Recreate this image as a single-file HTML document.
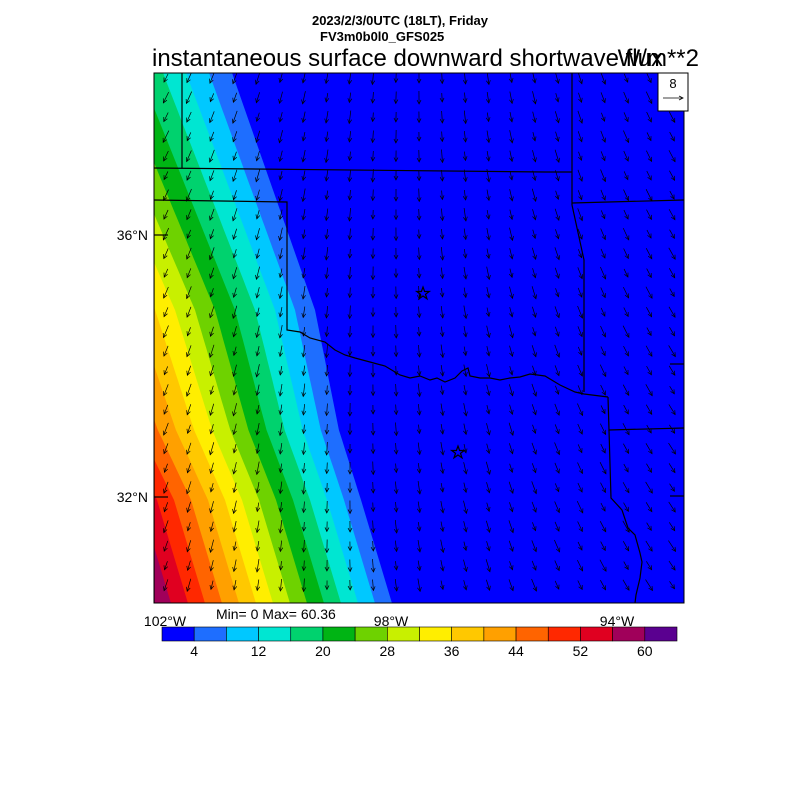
<!DOCTYPE html>
<html><head><meta charset="utf-8"><style>
html,body{margin:0;padding:0;background:#fff;}
svg{display:block;font-family:"Liberation Sans",sans-serif;}
</style></head><body>
<svg id="s" width="800" height="800" xmlns="http://www.w3.org/2000/svg">
<defs><clipPath id="c"><rect x="154" y="73" width="530" height="530"/></clipPath></defs>
<rect x="154" y="73" width="530" height="530" fill="#0000ff"/>
<g id="field" clip-path="url(#c)"></g>
<g id="arrows" clip-path="url(#c)" stroke="#000" stroke-width="0.7" fill="none"></g>
<g clip-path="url(#c)" stroke="#000" stroke-width="1.2" fill="none">
<polyline points="182,73 182,168"/>
<polyline points="154,168 545,172 572,172"/>
<polyline points="572,73 572,205"/>
<polyline points="572,203 684,200"/>
<polyline points="572,205 584,260 584,392"/>
<polyline points="154,200 287,202 287,330 300,332 310,338 325,342 335,350 345,355 355,358 370,362 385,366 400,375 410,378 420,376 430,380 437,378 445,382 455,378 462,371 468,368 470,376 480,378 490,378 500,380 510,378 520,377 530,374 545,376 560,385 575,392 584,394 600,396 608,397"/>
<polyline points="608,397 609,430 684,428"/>
<polyline points="609,430 611,498 622,510 628,528 635,535 640,553 642,562 640,578 636,595 635,603"/>
<polyline points="154,200 154,603"/>
<path d="M423,287 l1.6,4.5 4.7,0 -3.8,2.8 1.5,4.5 -4,-2.8 -4,2.8 1.5,-4.5 -3.8,-2.8 4.7,0z"/>
<path d="M458,446 l1.6,4.5 4.7,0 -3.8,2.8 1.5,4.5 -4,-2.8 -4,2.8 1.5,-4.5 -3.8,-2.8 4.7,0z"/>
</g>
<g id="bar"></g>
<rect x="154" y="73" width="530" height="530" fill="none" stroke="#000" stroke-width="1"/>
<g stroke="#000" stroke-width="1.2">
<line x1="154" y1="235" x2="168" y2="235"/>
<line x1="154" y1="497" x2="168" y2="497"/>
<line x1="670" y1="364" x2="684" y2="364"/>
<line x1="670" y1="496" x2="684" y2="496"/>
</g>
<text x="400" y="25" font-size="13" font-weight="bold" text-anchor="middle">2023/2/3/0UTC (18LT), Friday</text>
<text x="320" y="41" font-size="13" font-weight="bold">FV3m0b0l0_GFS025</text>
<text x="152" y="66" font-size="24">instantaneous surface downward shortwave flux</text>
<text x="699" y="66" font-size="24" text-anchor="end">W/m**2</text>
<rect x="658" y="73" width="30" height="38" fill="#fff" stroke="#000"/>
<text x="673" y="88" font-size="13" text-anchor="middle">8</text>
<line x1="663" y1="98" x2="683" y2="98" stroke="#000" stroke-width="0.8"/>
<path d="M679,96 L683,98 L679,100" stroke="#000" stroke-width="0.8" fill="none"/>
<text x="148" y="240" font-size="14" text-anchor="end">36°N</text>
<text x="148" y="502" font-size="14" text-anchor="end">32°N</text>
<text x="216" y="619" font-size="14">Min= 0 Max= 60.36</text>
<text x="165" y="626" font-size="14" text-anchor="middle">102°W</text>
<text x="391" y="626" font-size="14" text-anchor="middle">98°W</text>
<text x="617" y="626" font-size="14" text-anchor="middle">94°W</text>
</svg>
<script>
var cols=["#0000ff","#1e6eff","#00c8ff","#00e6d2","#00d26e","#00b414","#6ed200","#c8f000","#ffee00","#ffc800","#ffa000","#ff6400","#ff2800","#e00020","#a0005a","#5a0090"];
var NS="http://www.w3.org/2000/svg";
function el(t,a,p){var e=document.createElementNS(NS,t);for(var k in a)e.setAttribute(k,a[k]);p.appendChild(e);return e;}
var f=document.getElementById("field");
function interp(y,P){for(var i=0;i<P.length-1;i++){if(y<=P[i+1][0]){var t=(y-P[i][0])/(P[i+1][0]-P[i][0]);return P[i][1]+t*(P[i+1][1]-P[i][1]);}}return P[P.length-1][1];}
var X0=[[60,251],[73,255],[310,335],[430,357],[500,378],[620,414]];
var W=[[60,23],[73,23],[310,20],[500,17],[620,17]];
for(var k=1;k<16;k++){
  var pts=["0,60"];
  for(var y=60;y<=620;y+=10){pts.push((interp(y,X0)-interp(y,W)*k).toFixed(1)+","+y);}
  pts.push("0,620");
  el("polygon",{points:pts.join(" "),fill:cols[k]},f);
}
var a=document.getElementById("arrows");
var r=0;
for(var y=78;y<603;y+=19.5){r++;for(var x=166;x<684;x+=23){
  var xx=x;
  var dx=(xx-380)/300*0.6+(y-300)/600*0.2, dy=1; var L=9+((x*7+r*13)%5);
  var n=Math.sqrt(dx*dx+dy*dy);dx/=n;dy/=n;
  var x1=xx-dx*L/2,y1=y-dy*L/2,x2=xx+dx*L/2,y2=y+dy*L/2;
  el("line",{x1:x1,y1:y1,x2:x2,y2:y2},a);
  var px=-dy,py=dx;
  el("path",{d:"M"+(x2-dx*4+px*2)+","+(y2-dy*4+py*2)+" L"+x2+","+y2+" L"+(x2-dx*4-px*2)+","+(y2-dy*4-py*2)},a);
}}
var b=document.getElementById("bar");
var w=(677-162)/16;
for(var i=0;i<16;i++){el("rect",{x:162+i*w,y:627,width:w,height:14,fill:cols[i],stroke:"#000","stroke-width":0.6},b);}
var labs=["4","12","20","28","36","44","52","60"];
for(var i=0;i<8;i++){var t=el("text",{x:162+w*(2*i+1),y:656,"font-size":14,"text-anchor":"middle"},b);t.textContent=labs[i];}
</script>
</body></html>
